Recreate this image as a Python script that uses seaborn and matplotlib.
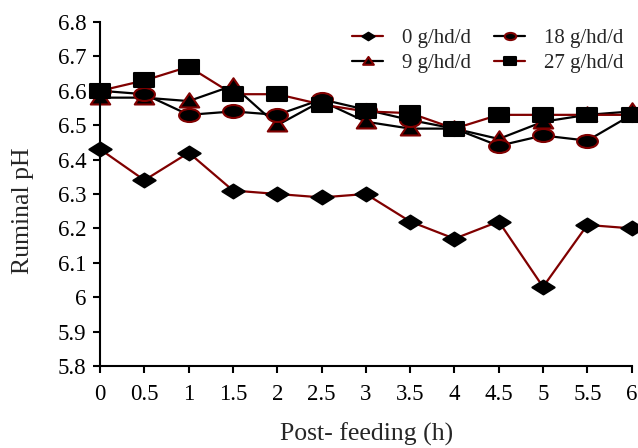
import matplotlib
matplotlib.use('Agg')
import matplotlib.pyplot as plt
import pandas as pd
import seaborn as sns
from matplotlib.path import Path
from matplotlib.transforms import Affine2D

# Data
hours = [0, 0.5, 1, 1.5, 2, 2.5, 3, 3.5, 4, 4.5, 5, 5.5, 6]
ph_0 = [6.43, 6.34, 6.42, 6.31, 6.30, 6.29, 6.30, 6.22, 6.17, 6.22, 6.03, 6.21, 6.20]
ph_9 = [6.58, 6.58, 6.57, 6.615, 6.50, 6.57, 6.51, 6.49, 6.49, 6.46, 6.51, 6.53, 6.54]
ph_18 = [6.60, 6.59, 6.53, 6.54, 6.53, 6.575, 6.545, 6.515, 6.49, 6.44, 6.47, 6.455, 6.53]
ph_27 = [6.60, 6.63, 6.67, 6.59, 6.59, 6.56, 6.54, 6.535, 6.49, 6.53, 6.53, 6.53, 6.53]
labels = ['0 g/hd/d', '9 g/hd/d', '18 g/hd/d', '27 g/hd/d']
tick_labels = ['0', '0.5', '1', '1.5', '2', '2.5', '3', '3.5', '4', '4.5', '5', '5.5', '6']

sns.set_style('ticks')
plt.rcParams['font.family'] = ['Liberation Serif', 'DejaVu Serif']

dred = '#800000'
df = pd.DataFrame({'hours': hours, labels[0]: ph_0, labels[1]: ph_9,
                   labels[2]: ph_18, labels[3]: ph_27})

# the markers in the original are squashed (wider than tall)
wide_diamond = Path([(-0.8, 0), (0, 0.5), (0.8, 0), (0, -0.5), (-0.8, 0)], closed=True)
wide_rect = Path([(-0.8, -0.5), (0.8, -0.5), (0.8, 0.5), (-0.8, 0.5), (-0.8, -0.5)], closed=True)
wide_tri = Path([(-0.65, -0.4), (0.65, -0.4), (0, 0.55), (-0.65, -0.4)], closed=True)
ellipse = Affine2D().scale(0.8, 0.5).transform_path(Path.unit_circle())

# line colour, marker, marker size, marker edge colour
styles = {
    labels[0]: (dred, wide_diamond, 16, 'black'),
    labels[1]: ('black', wide_tri, 14, dred),
    labels[2]: ('black', ellipse, 15, dred),
    labels[3]: (dred, wide_rect, 15, 'black'),
}

fig, ax = plt.subplots(figsize=(6.38, 4.48), dpi=100)
fig.subplots_adjust(left=0.157, right=0.99, bottom=0.183, top=0.951)

for name in labels:
    col, mk, ms, mec = styles[name]
    sns.lineplot(data=df, x='hours', y=name, ax=ax, color=col, marker=mk,
                 markersize=ms, markerfacecolor='black', markeredgecolor=mec,
                 markeredgewidth=1.5, linewidth=1.6, label=name, clip_on=False)

ax.set_xlim(0, 6)
ax.set_ylim(5.8, 6.8)
ax.set_xticks(hours)
ax.set_xticklabels(tick_labels)
ax.set_yticks([5.8, 5.9, 6.0, 6.1, 6.2, 6.3, 6.4, 6.5, 6.6, 6.7, 6.8])
ax.set_yticklabels(['5.8', '5.9', '6', '6.1', '6.2', '6.3', '6.4', '6.5', '6.6', '6.7', '6.8'])
ax.tick_params(axis='both', labelsize=16.5, length=5, width=1.5, color='black', labelcolor='black')
ax.tick_params(axis='x', pad=8)
ax.tick_params(axis='y', pad=5)
ax.set_xlabel('Post- feeding (h)', fontsize=18.5)
ax.set_ylabel('Ruminal pH', fontsize=18.5)
ax.xaxis.set_label_coords(0.502, -0.163)
ax.yaxis.set_label_coords(-0.124, 0.45)
for sp in ['left', 'bottom']:
    ax.spines[sp].set_linewidth(1.5)
    ax.spines[sp].set_color('black')
sns.despine(ax=ax)

ax.legend(loc='upper right', bbox_to_anchor=(1.02, 1.035), ncol=2, frameon=False,
          fontsize=15, handlelength=1.5, handletextpad=0.9, columnspacing=1.1,
          labelspacing=0.25, markerscale=0.55)

fig.savefig('out.png', dpi=100)
